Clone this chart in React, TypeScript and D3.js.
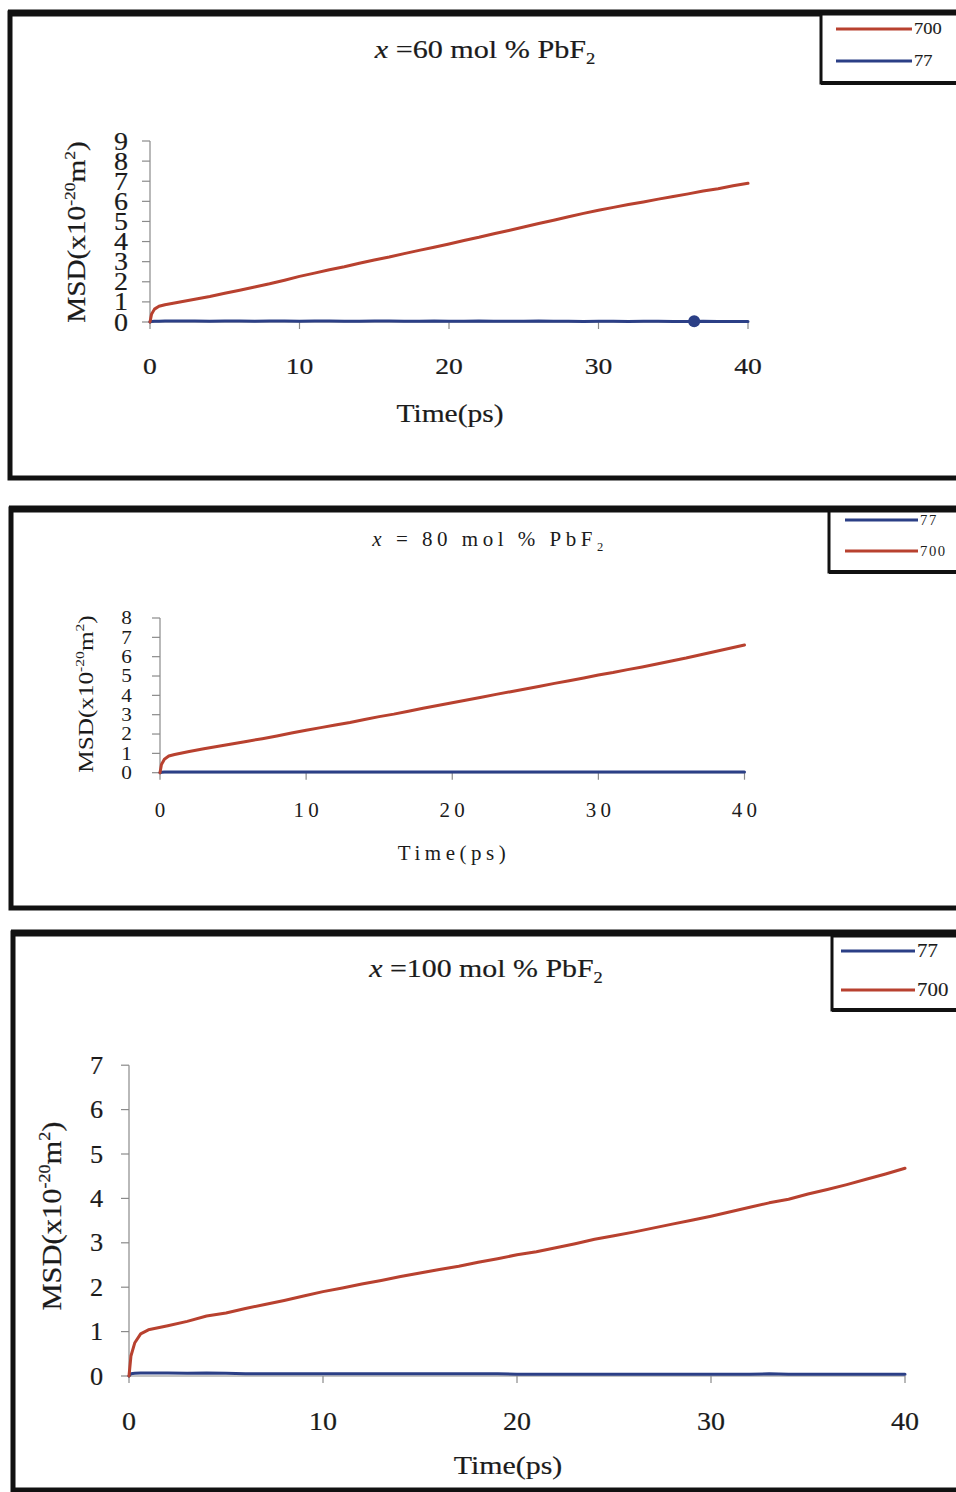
import React from "react";
import * as d3 from "d3";

// Sampling times (ps) shared by every MSD series
const TIMES = [0, 0.1, 0.3, 0.6, 1, 2, 3, 4, 5, 6, 7, 8, 9, 10, 11, 12, 13, 14, 15, 16, 17, 18, 19, 20, 21, 22, 23, 24, 25, 26, 27, 28, 29, 30, 31, 32, 33, 34, 35, 36, 37, 38, 39, 40];

// x = 60 mol % PbF2
const MSD60_700 = [0, 0.38, 0.64, 0.78, 0.86, 0.99, 1.13, 1.27, 1.43, 1.58, 1.74, 1.9, 2.08, 2.27, 2.43, 2.6, 2.75, 2.92, 3.08, 3.23, 3.4, 3.56, 3.72, 3.88, 4.05, 4.21, 4.39, 4.55, 4.72, 4.9, 5.06, 5.23, 5.4, 5.56, 5.7, 5.84, 5.97, 6.11, 6.24, 6.37, 6.51, 6.63, 6.77, 6.9];
const MSD60_77 = [0, 0.03, 0.04, 0.04, 0.05, 0.05, 0.05, 0.04, 0.05, 0.05, 0.04, 0.05, 0.05, 0.04, 0.05, 0.05, 0.04, 0.04, 0.05, 0.05, 0.04, 0.04, 0.05, 0.04, 0.04, 0.05, 0.04, 0.04, 0.04, 0.05, 0.04, 0.04, 0.03, 0.04, 0.04, 0.03, 0.04, 0.04, 0.03, 0.03, 0.04, 0.03, 0.03, 0.03];
const MARK60_77 = 36.4;

// x = 80 mol % PbF2
const MSD80_700 = [0, 0.42, 0.7, 0.86, 0.94, 1.1, 1.24, 1.37, 1.5, 1.63, 1.76, 1.9, 2.05, 2.2, 2.33, 2.47, 2.6, 2.75, 2.9, 3.03, 3.18, 3.33, 3.47, 3.62, 3.76, 3.9, 4.05, 4.19, 4.33, 4.47, 4.62, 4.76, 4.9, 5.05, 5.18, 5.33, 5.47, 5.62, 5.78, 5.93, 6.1, 6.27, 6.44, 6.6];
const MSD80_77 = [0, 0.02, 0.03, 0.03, 0.03, 0.03, 0.03, 0.04, 0.04, 0.03, 0.03, 0.03, 0.03, 0.03, 0.03, 0.03, 0.03, 0.03, 0.03, 0.03, 0.03, 0.03, 0.03, 0.03, 0.03, 0.03, 0.03, 0.03, 0.03, 0.03, 0.03, 0.03, 0.03, 0.03, 0.03, 0.04, 0.04, 0.04, 0.04, 0.04, 0.04, 0.04, 0.04, 0.04];

// x = 100 mol % PbF2
const MSD100_700 = [0, 0.45, 0.75, 0.95, 1.04, 1.13, 1.23, 1.35, 1.42, 1.52, 1.61, 1.7, 1.8, 1.9, 1.98, 2.07, 2.15, 2.24, 2.32, 2.4, 2.47, 2.56, 2.64, 2.73, 2.8, 2.89, 2.98, 3.08, 3.16, 3.24, 3.33, 3.42, 3.51, 3.6, 3.7, 3.8, 3.9, 3.98, 4.1, 4.2, 4.31, 4.43, 4.55, 4.68];
const MSD100_77 = [0, 0.05, 0.06, 0.07, 0.07, 0.07, 0.06, 0.07, 0.06, 0.05, 0.05, 0.05, 0.05, 0.05, 0.05, 0.05, 0.05, 0.05, 0.05, 0.05, 0.05, 0.05, 0.05, 0.04, 0.04, 0.04, 0.04, 0.04, 0.04, 0.04, 0.04, 0.04, 0.04, 0.04, 0.04, 0.04, 0.05, 0.04, 0.04, 0.04, 0.04, 0.04, 0.04, 0.04];

const X_TICKS = [0, 10, 20, 30, 40];
const Y_TICKS_60 = [0, 1, 2, 3, 4, 5, 6, 7, 8, 9];
const Y_TICKS_80 = [0, 1, 2, 3, 4, 5, 6, 7, 8];
const Y_TICKS_100 = [0, 1, 2, 3, 4, 5, 6, 7];

const TEMPS_60 = ["700", "77"];
const TEMPS_80 = ["77", "700"];
const TEMPS_100 = ["77", "700"];
const TITLES = ["60", "80", "100"];

const RED = "#b8412f";
const BLUE = "#2b3f86";
const INK = "#1b1b1b";
const AXIS = "#8a8a8a";
const FONT = "'Liberation Serif', 'Times New Roman', serif";

type TextProps = {
  x: number; y: number; size: number; sx?: number; anchor?: string;
  rotate?: number; spacing?: number; fill?: string; heavy?: number; children: React.ReactNode;
};

function SText({ x, y, size, sx = 1, anchor = "middle", rotate = 0, spacing = 0, fill = INK, heavy = 0.2, children }: TextProps) {
  return (
    <text
      transform={`translate(${x},${y}) rotate(${rotate}) scale(${sx},1)`}
      fontSize={size}
      textAnchor={anchor}
      letterSpacing={spacing}
      fill={fill}
      stroke={heavy > 0 ? fill : "none"}
      strokeWidth={heavy}
      fontFamily={FONT}
    >
      {children}
    </text>
  );
}

type PanelCfg = {
  heavy: number;
  frame: { x: number; y: number; bottom: number; top: number };
  plot: { x0: number; x1: number; y0: number; yTop: number; yMax: number };
  yTicks: number[];
  series: { values: number[]; color: string }[];
  mark?: { t: number; values: number[] };
  title: { text: string; x: number; y: number; size: number; sx: number; spacing: number };
  yTickFont: { size: number; x: number; sx: number };
  xTickFont: { size: number; y: number; sx: number; spacing: number };
  xTitle: { x: number; y: number; size: number; sx: number; spacing: number };
  yTitle: { x: number; y: number; size: number; sx: number };
  legend: { x: number; y: number; bottom: number; rows: { label: string; y: number }[]; lx0: number; lx1: number; size: number; sx: number; spacing: number };
};

function Panel({ cfg }: { cfg: PanelCfg }) {
  const { frame, plot, heavy } = cfg;
  const x = d3.scaleLinear().domain([0, 40]).range([plot.x0, plot.x1]);
  const y = d3.scaleLinear().domain([0, plot.yMax]).range([plot.y0, plot.yTop]);
  const line = d3
    .line<number>()
    .x((_, i) => x(TIMES[i]))
    .y((v) => y(v))
    .curve(d3.curveLinear);

  const colorOf = (label: string) => (label === "700" ? RED : BLUE);
  const lg = cfg.legend;
  const sub = Math.round(cfg.title.size * 0.62);
  const ySup = Math.round(cfg.yTitle.size * 0.6);

  return (
    <g>
      {/* panel frame, running past the right edge */}
      <rect x={frame.x} y={frame.y} width={980 - frame.x} height={frame.bottom - frame.y} fill="none" stroke="#111" strokeWidth={5} />
      <line x1={frame.x - 2} x2={980} y1={frame.top} y2={frame.top} stroke="#111" strokeWidth={7} />

      {/* title */}
      <SText x={cfg.title.x} y={cfg.title.y} size={cfg.title.size} sx={cfg.title.sx} spacing={cfg.title.spacing} heavy={heavy}>
        <tspan fontStyle="italic">x</tspan>
        <tspan>{cfg.title.text}</tspan>
        <tspan fontSize={sub} dy={sub * 0.4}>2</tspan>
      </SText>

      {/* axes */}
      <line x1={plot.x0} x2={plot.x0} y1={y(plot.yMax)} y2={plot.y0} stroke={AXIS} strokeWidth={1.2} />
      <line x1={plot.x0} x2={plot.x1} y1={plot.y0} y2={plot.y0} stroke={AXIS} strokeWidth={1.2} />
      {cfg.yTicks.map((t) => (
        <g key={"y" + t}>
          <line x1={plot.x0 - 8} x2={plot.x0} y1={y(t)} y2={y(t)} stroke={AXIS} strokeWidth={1.2} />
          <SText x={cfg.yTickFont.x} y={y(t) + cfg.yTickFont.size * 0.34} size={cfg.yTickFont.size} sx={cfg.yTickFont.sx} anchor="end" heavy={heavy}>
            {t}
          </SText>
        </g>
      ))}
      {X_TICKS.map((t) => (
        <g key={"x" + t}>
          <line x1={x(t)} x2={x(t)} y1={plot.y0} y2={plot.y0 + 7} stroke={AXIS} strokeWidth={1.2} />
          <SText x={x(t) + cfg.xTickFont.spacing / 2} y={cfg.xTickFont.y} size={cfg.xTickFont.size} sx={cfg.xTickFont.sx} spacing={cfg.xTickFont.spacing} heavy={heavy}>
            {t}
          </SText>
        </g>
      ))}

      {/* axis titles */}
      <SText x={cfg.xTitle.x} y={cfg.xTitle.y} size={cfg.xTitle.size} sx={cfg.xTitle.sx} spacing={cfg.xTitle.spacing} heavy={heavy}>
        Time(ps)
      </SText>
      <SText x={cfg.yTitle.x} y={cfg.yTitle.y} size={cfg.yTitle.size} sx={cfg.yTitle.sx} rotate={-90} heavy={heavy}>
        <tspan>MSD(x10</tspan>
        <tspan fontSize={ySup} dy={-cfg.yTitle.size * 0.42}>-20</tspan>
        <tspan dy={cfg.yTitle.size * 0.42}>m</tspan>
        <tspan fontSize={ySup} dy={-cfg.yTitle.size * 0.42}>2</tspan>
        <tspan dy={cfg.yTitle.size * 0.42}>)</tspan>
      </SText>

      {/* MSD curves */}
      {cfg.series.map((s, i) => (
        <path key={i} d={line(s.values) ?? ""} fill="none" stroke={s.color} strokeWidth={3} strokeLinejoin="round" strokeLinecap="round" />
      ))}
      {cfg.mark && (
        <circle
          cx={x(cfg.mark.t)}
          cy={y(d3.scaleLinear().domain(TIMES).range(cfg.mark.values)(cfg.mark.t))}
          r={6}
          fill={BLUE}
        />
      )}

      {/* legend */}
      <rect x={lg.x} y={lg.y} width={980 - lg.x} height={lg.bottom - lg.y} fill="#fff" stroke="#111" strokeWidth={3} />
      <line x1={lg.x} x2={980} y1={lg.bottom} y2={lg.bottom} stroke="#111" strokeWidth={4} />
      {lg.rows.map((r) => (
        <g key={r.label}>
          <line x1={lg.lx0} x2={lg.lx1} y1={r.y} y2={r.y} stroke={colorOf(r.label)} strokeWidth={3} />
          <SText x={lg.lx1 + 2} y={r.y + lg.size * 0.34} size={lg.size} sx={lg.sx} spacing={lg.spacing} anchor="start" heavy={heavy * 0.6}>
            {r.label}
          </SText>
        </g>
      ))}
    </g>
  );
}

const PANELS: PanelCfg[] = [
  {
    heavy: 0.2,
    frame: { x: 10, y: 13, bottom: 478, top: 13 },
    plot: { x0: 150, x1: 748, y0: 322, yTop: 141, yMax: 9 },
    yTicks: Y_TICKS_60,
    series: [
      { values: MSD60_77, color: BLUE },
      { values: MSD60_700, color: RED },
    ],
    mark: { t: MARK60_77, values: MSD60_77 },
    title: { text: ` =${TITLES[0]} mol % PbF`, x: 485, y: 58, size: 26, sx: 1.16, spacing: 0 },
    yTickFont: { size: 25, x: 128, sx: 1.12 },
    xTickFont: { size: 24, y: 374, sx: 1.15, spacing: 0 },
    xTitle: { x: 450, y: 422, size: 25, sx: 1.18, spacing: 0 },
    yTitle: { x: 85, y: 232, size: 25, sx: 1.17 },
    legend: {
      x: 821, y: 14, bottom: 83,
      rows: TEMPS_60.map((l, i) => ({ label: l, y: [29, 61][i] })),
      lx0: 836, lx1: 912, size: 16, sx: 1.15, spacing: 0,
    },
  },
  {
    heavy: 0,
    frame: { x: 11, y: 509, bottom: 908, top: 509 },
    plot: { x0: 160, x1: 744.5, y0: 772.7, yTop: 618, yMax: 8 },
    yTicks: Y_TICKS_80,
    series: [
      { values: MSD80_77, color: BLUE },
      { values: MSD80_700, color: RED },
    ],
    title: { text: ` = ${TITLES[1]} mol % PbF`, x: 490, y: 546, size: 20, sx: 1.05, spacing: 4.3 },
    yTickFont: { size: 19, x: 132, sx: 1.12 },
    xTickFont: { size: 20, y: 817, sx: 1.05, spacing: 4 },
    xTitle: { x: 454, y: 860, size: 20, sx: 1.05, spacing: 4.3 },
    yTitle: { x: 93, y: 694, size: 21, sx: 1.2 },
    legend: {
      x: 829, y: 511, bottom: 572,
      rows: TEMPS_80.map((l, i) => ({ label: l, y: [520, 551][i] })),
      lx0: 845, lx1: 918, size: 14, sx: 1.05, spacing: 1.5,
    },
  },
  {
    heavy: 0.2,
    frame: { x: 13, y: 933, bottom: 1490, top: 933 },
    plot: { x0: 129, x1: 905, y0: 1376, yTop: 1065.2, yMax: 7 },
    yTicks: Y_TICKS_100,
    series: [
      { values: MSD100_77, color: BLUE },
      { values: MSD100_700, color: RED },
    ],
    title: { text: ` =${TITLES[2]} mol % PbF`, x: 486, y: 977, size: 26, sx: 1.15, spacing: 0 },
    yTickFont: { size: 25, x: 103, sx: 1.05 },
    xTickFont: { size: 25, y: 1430, sx: 1.12, spacing: 0 },
    xTitle: { x: 508, y: 1474, size: 26, sx: 1.15, spacing: 0 },
    yTitle: { x: 61, y: 1216, size: 27, sx: 1.13 },
    legend: {
      x: 832, y: 936, bottom: 1010,
      rows: TEMPS_100.map((l, i) => ({ label: l, y: [951, 990][i] })),
      lx0: 841, lx1: 915, size: 19, sx: 1.1, spacing: 0,
    },
  },
];

export default function App() {
  return (
    <svg
      width={956}
      height={1492}
      viewBox="0 0 956 1492"
      style={{ position: "absolute", left: 0, top: 0, display: "block", background: "#fff" }}
    >
      <rect x={0} y={0} width={956} height={1492} fill="#fff" />
      {PANELS.map((p, i) => (
        <Panel key={i} cfg={p} />
      ))}
    </svg>
  );
}
